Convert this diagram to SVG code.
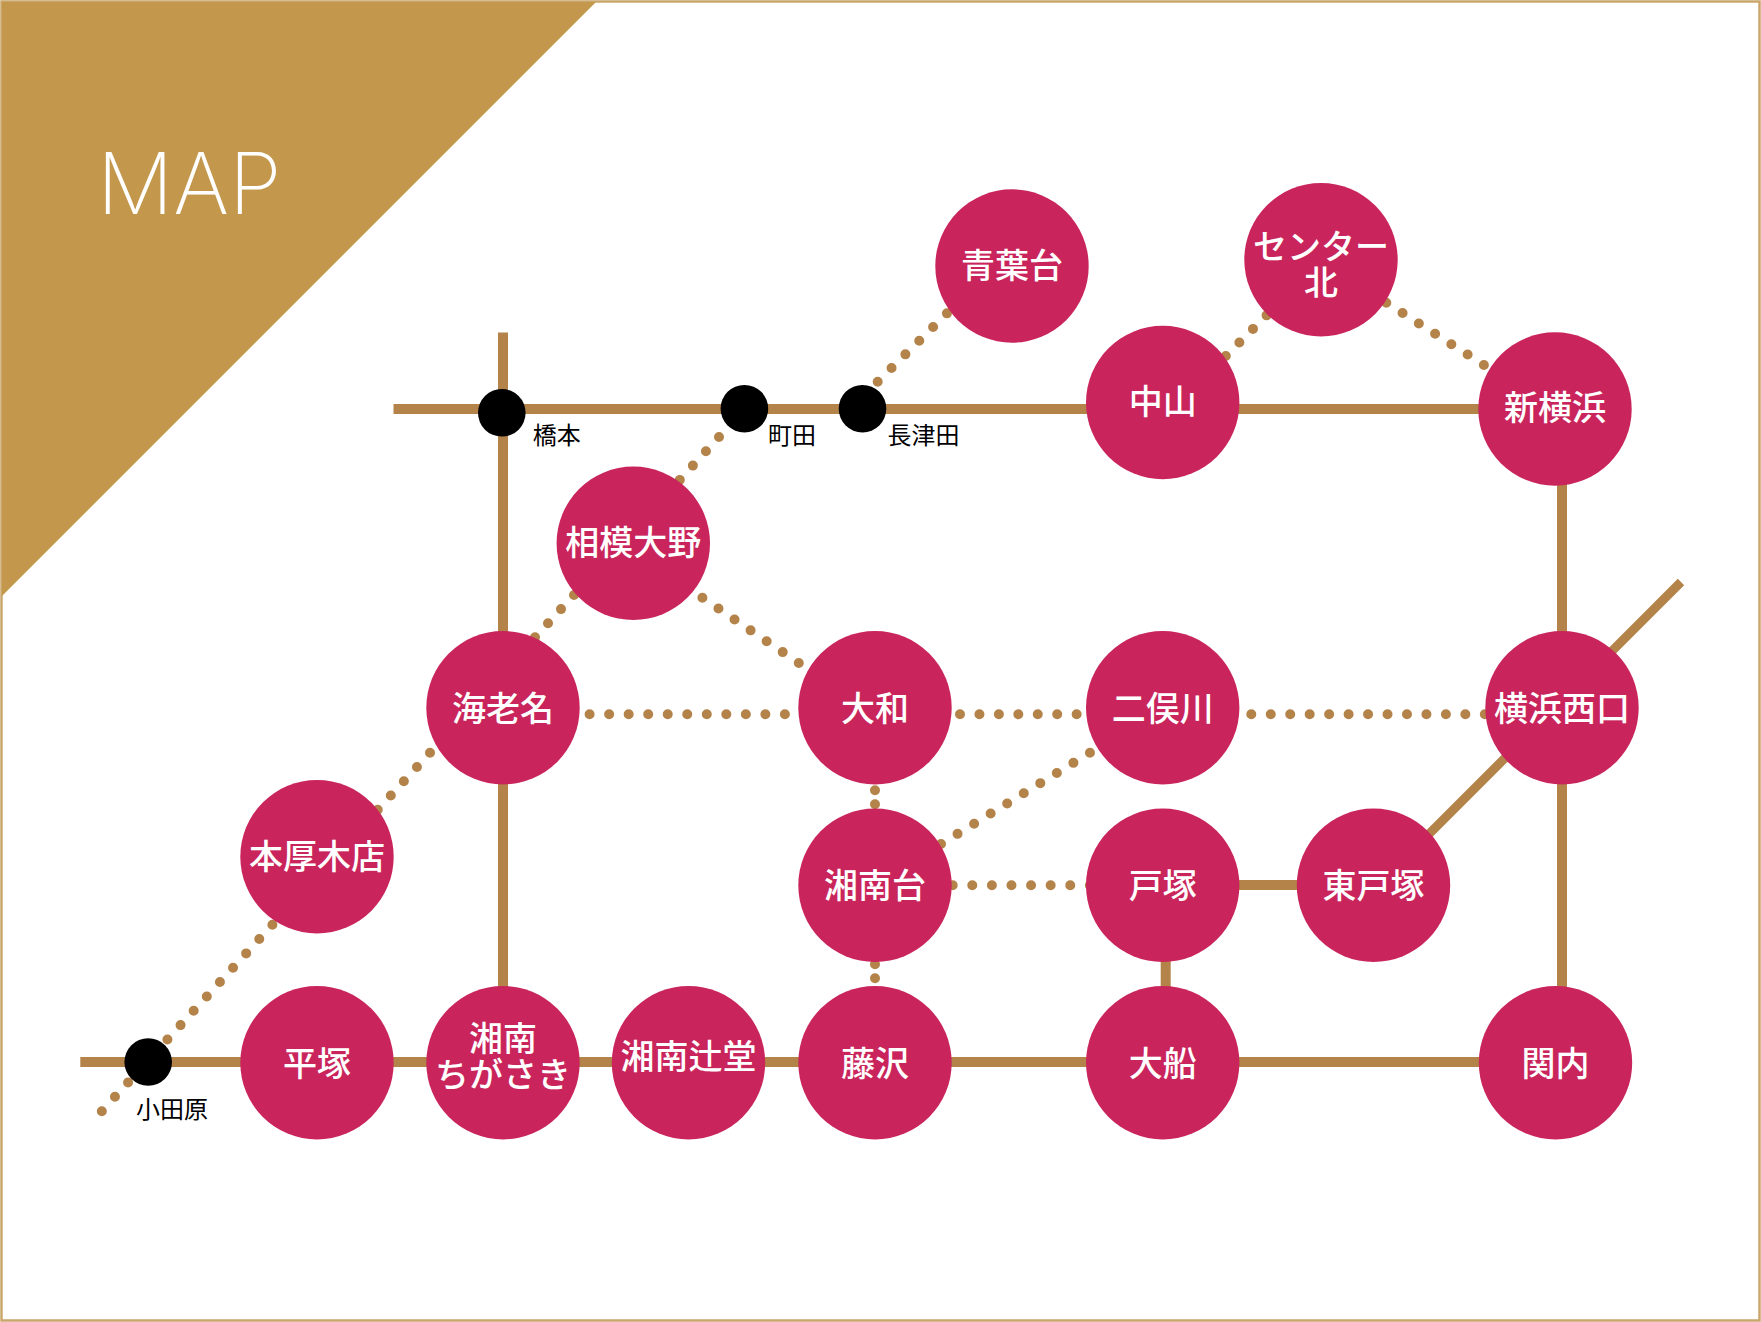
<svg xmlns="http://www.w3.org/2000/svg" width="1761" height="1322" viewBox="0 0 1761 1322">
<style>
.st{fill:#c9255c}
.n{fill:#fff;font-family:"Noto Sans CJK JP","Noto Sans",sans-serif;font-size:34px;font-weight:500;text-anchor:middle}
.l{fill:#000;font-family:"Noto Sans CJK JP","Noto Sans",sans-serif;font-size:24px;font-weight:400;text-anchor:middle}
.s{stroke:#b3834a;stroke-width:10;fill:none}
.d{stroke:#b3834a;stroke-width:10;fill:none;stroke-linecap:round}
.k{fill:#000}
</style>
<rect x="0" y="0" width="1761" height="1322" fill="#fff"/>
<rect x="1.5" y="1.5" width="1758" height="1319" fill="#fff" stroke="#c9a66b" stroke-width="2.5"/>
<g id="banner">
<polygon points="2,2 596,2 2,596" fill="#c4984c"/>
<text x="97" y="213.5" font-family="Inter, 'Liberation Sans', sans-serif" font-weight="200" font-size="85" fill="#fff">MAP</text>
</g>
<g id="connectors">
<path class="s" d="M393.5 409H1555"/>
<path class="s" d="M503 332.5V1062"/>
<path class="s" d="M80.3 1062H1555"/>
<path class="s" d="M1562 409V1062"/>
<path class="s" d="M1162 885H1373"/>
<path class="s" d="M1165.7 885V1062"/>
<path class="s" d="M1373 890L1681 582" style="stroke-width:9"/>
<path class="d" style="stroke-dasharray:0 19.53" d="M589.6 714.3H785"/>
<path class="d" style="stroke-dasharray:0 19.44" d="M960 714.3H1076.7"/>
<path class="d" style="stroke-dasharray:0 19.46" d="M1251.3 714.3H1485"/>
<path class="d" style="stroke-dasharray:0 19.59" d="M952.7 885.3H1090"/>
<path class="d" style="stroke-dasharray:0 13.99" d="M875 790.3V804.3"/>
<path class="d" style="stroke-dasharray:0 13.99" d="M875 964.3V978.3"/>
<path class="d" style="stroke-dasharray:0 19.41" d="M941 844L1090 752.7"/>
<path class="d" style="stroke-dasharray:0 19.4" d="M702.4 597.7L798.8 663"/>
<path class="d" style="stroke-dasharray:0 19.17" d="M574 595L535 637.3"/>
<path class="d" style="stroke-dasharray:0 19.37" d="M719 437L679.7 480"/>
<path class="d" style="stroke-dasharray:0 19.46" d="M877.7 381.7L947 313.3"/>
<path class="d" style="stroke-dasharray:0 19.19" d="M1225.8 356L1266.6 315.3"/>
<path class="d" style="stroke-dasharray:0 19.29" d="M1386.3 302.7L1484 365"/>
<path class="d" style="stroke-dasharray:0 19.33" d="M430 752.7L377.7 809.7"/>
<path class="d" style="stroke-dasharray:0 19.44" d="M272.4 924.7L101.7 1111.3"/>
</g>
<g id="n-aobadai"><circle class="st" cx="1012" cy="266" r="76.7"/><text class="n" x="1012" y="278">青葉台</text></g>
<g id="n-center-kita"><circle class="st" cx="1321" cy="259.7" r="76.7"/><text class="n" x="1321" y="259">センター</text><text class="n" x="1321" y="295">北</text></g>
<g id="n-nakayama"><circle class="st" cx="1162.7" cy="402.5" r="76.7"/><text class="n" x="1162.7" y="414">中山</text></g>
<g id="n-shinyokohama"><circle class="st" cx="1555" cy="409" r="76.7"/><text class="n" x="1555" y="420">新横浜</text></g>
<g id="n-sagamiono"><circle class="st" cx="633.3" cy="543.3" r="76.7"/><text class="n" x="633.3" y="555">相模大野</text></g>
<g id="n-ebina"><circle class="st" cx="503" cy="707.7" r="76.7"/><text class="n" x="503" y="721">海老名</text></g>
<g id="n-yamato"><circle class="st" cx="875" cy="707.7" r="76.7"/><text class="n" x="875" y="721">大和</text></g>
<g id="n-futamatagawa"><circle class="st" cx="1162.7" cy="707.7" r="76.7"/><text class="n" x="1162.7" y="721">二俣川</text></g>
<g id="n-yokohamanishiguchi"><circle class="st" cx="1562" cy="707.7" r="76.7"/><text class="n" x="1562" y="721">横浜西口</text></g>
<g id="n-honatsugi"><circle class="st" cx="317" cy="856.7" r="76.7"/><text class="n" x="317" y="869">本厚木店</text></g>
<g id="n-shonandai"><circle class="st" cx="875" cy="885.3" r="76.7"/><text class="n" x="875" y="898">湘南台</text></g>
<g id="n-totsuka"><circle class="st" cx="1162.7" cy="885.3" r="76.7"/><text class="n" x="1162.7" y="898">戸塚</text></g>
<g id="n-higashitotsuka"><circle class="st" cx="1373.5" cy="885.3" r="76.7"/><text class="n" x="1373.5" y="898">東戸塚</text></g>
<g id="n-hiratsuka"><circle class="st" cx="317" cy="1062.7" r="76.7"/><text class="n" x="317" y="1076">平塚</text></g>
<g id="n-chigasaki"><circle class="st" cx="503" cy="1062.7" r="76.7"/><text class="n" x="503" y="1051">湘南</text><text class="n" x="503" y="1087">ちがさき</text></g>
<g id="n-tsujido"><circle class="st" cx="688.5" cy="1062.7" r="76.7"/><text class="n" x="688.5" y="1069">湘南辻堂</text></g>
<g id="n-fujisawa"><circle class="st" cx="875" cy="1062.7" r="76.7"/><text class="n" x="875" y="1076">藤沢</text></g>
<g id="n-ofuna"><circle class="st" cx="1162.7" cy="1062.7" r="76.7"/><text class="n" x="1162.7" y="1076">大船</text></g>
<g id="n-kannai"><circle class="st" cx="1555.5" cy="1062.7" r="76.7"/><text class="n" x="1555.5" y="1076">関内</text></g>
<g id="n-hashimoto"><circle class="k" cx="501.8" cy="412.8" r="23.8"/><text class="l" x="556.8" y="443.5">橋本</text></g>
<g id="n-machida"><circle class="k" cx="744.4" cy="408.7" r="23.8"/><text class="l" x="792" y="443.5">町田</text></g>
<g id="n-nagatsuta"><circle class="k" cx="862.5" cy="408.7" r="23.8"/><text class="l" x="923.5" y="443.5">長津田</text></g>
<g id="n-odawara"><circle class="k" cx="148.2" cy="1062" r="23.8"/><text class="l" x="172" y="1117.5">小田原</text></g>
</svg>
